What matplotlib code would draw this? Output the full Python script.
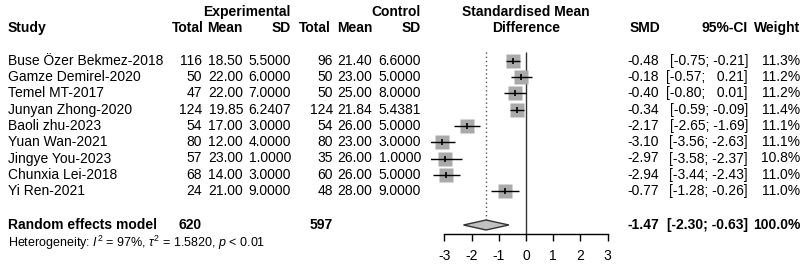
import numpy as np
import matplotlib
matplotlib.use("Agg")
import matplotlib.pyplot as plt

plt.rcParams['font.family'] = ['Liberation Sans', 'DejaVu Sans']
plt.rcParams['mathtext.fontset'] = 'custom'
plt.rcParams['mathtext.rm'] = 'Liberation Sans'
plt.rcParams['mathtext.it'] = 'Liberation Sans:italic'

# study data
studies = ["Buse Özer Bekmez-2018", "Gamze Demirel-2020", "Temel MT-2017",
           "Junyan Zhong-2020", "Baoli zhu-2023", "Yuan Wan-2021",
           "Jingye You-2023", "Chunxia Lei-2018", "Yi Ren-2021"]
exp_n = [116, 50, 47, 124, 54, 80, 57, 68, 24]
exp_mean = [18.50, 22.00, 22.00, 19.85, 17.00, 12.00, 23.00, 14.00, 21.00]
exp_sd = [5.5000, 6.0000, 7.0000, 6.2407, 3.0000, 4.0000, 1.0000, 3.0000, 9.0000]
ctl_n = [96, 50, 50, 124, 54, 80, 35, 60, 48]
ctl_mean = [21.40, 23.00, 25.00, 21.84, 26.00, 23.00, 26.00, 26.00, 28.00]
ctl_sd = [6.6000, 5.0000, 8.0000, 5.4381, 5.0000, 3.0000, 1.0000, 5.0000, 9.0000]
smd = [-0.48, -0.18, -0.40, -0.34, -2.17, -3.10, -2.97, -2.94, -0.77]
ci_lo = [-0.75, -0.57, -0.80, -0.59, -2.65, -3.56, -3.58, -3.44, -1.28]
ci_hi = [-0.21, 0.21, 0.01, -0.09, -1.69, -2.63, -2.37, -2.43, -0.26]
weight = [11.3, 11.2, 11.2, 11.4, 11.1, 11.1, 10.8, 11.0, 11.0]

pooled_smd = -1.47
pooled_lo = -2.30
pooled_hi = -0.63
total_exp = 620
total_ctl = 597
ticks = [-3, -2, -1, 0, 1, 2, 3]

W, H = 810, 268
fig = plt.figure(figsize=(W / 100, H / 100), dpi=100)

# row r sits at pixel y = y0 + dy * r
y0, dy = 61.0, 16.25
ylim = ((H - y0) / dy, -y0 / dy)
def row(py):
    return (py - y0) / dy

# text layer in pixel x
tx = fig.add_axes([0, 0, 1, 1])
tx.set_xlim(0, W)
tx.set_ylim(*ylim)
tx.axis("off")

fs = 10
bold = dict(fontsize=fs, fontweight="bold", va="center")
norm = dict(fontsize=fs, va="center")

# headers
tx.text(291, row(12), "Experimental", ha="right", **bold)
tx.text(421, row(12), "Control", ha="right", **bold)
tx.text(526, row(12), "Standardised Mean", ha="center", **bold)
tx.text(8, row(28), "Study", ha="left", **bold)
for x, s in [(204, "Total"), (243, "Mean"), (291, "SD"),
             (331, "Total"), (372, "Mean"), (421, "SD"),
             (660, "SMD"), (748, "95%-CI"), (800, "Weight")]:
    tx.text(x, row(28), s, ha="right", **bold)
tx.text(526, row(28), "Difference", ha="center", **bold)

for i, name in enumerate(studies):
    tx.text(8, i, name, ha="left", **norm)
    tx.text(202, i, f"{exp_n[i]}", ha="right", **norm)
    tx.text(243, i, f"{exp_mean[i]:.2f}", ha="right", **norm)
    tx.text(291, i, f"{exp_sd[i]:.4f}", ha="right", **norm)
    tx.text(333, i, f"{ctl_n[i]}", ha="right", **norm)
    tx.text(372, i, f"{ctl_mean[i]:.2f}", ha="right", **norm)
    tx.text(421, i, f"{ctl_sd[i]:.4f}", ha="right", **norm)
    tx.text(659, i, f"{smd[i]:.2f}", ha="right", **norm)
    hi = f"{ci_hi[i]:.2f}"
    if ci_hi[i] >= 0:
        hi = "  " + hi
    tx.text(748, i, f"[{ci_lo[i]:.2f}; {hi}]", ha="right", **norm)
    tx.text(800, i, f"{weight[i]:.1f}%", ha="right", **norm)

ys = row(225)
tx.text(8, ys, "Random effects model", ha="left", **bold)
tx.text(202, ys, f"{total_exp}", ha="right", **bold)
tx.text(333, ys, f"{total_ctl}", ha="right", **bold)
tx.text(659, ys, f"{pooled_smd:.2f}", ha="right", **bold)
tx.text(748, ys, f"[{pooled_lo:.2f}; {pooled_hi:.2f}]", ha="right", **bold)
tx.text(800, ys, "100.0%", ha="right", **bold)
tx.text(8, row(243), r"Heterogeneity: $I^2$ = 97%, $\tau^2$ = 1.5820, $p$ < 0.01",
        ha="left", fontsize=9, va="center")

# forest panel
zero_px, unit_px = 526.0, 27.17
xl = (-3.5, 3.5)
left = zero_px + xl[0] * unit_px
ax = fig.add_axes([left / W, 0, (xl[1] - xl[0]) * unit_px / W, 1])
ax.patch.set_alpha(0)
ax.set_xlim(*xl)
ax.set_ylim(*ylim)

idx = np.arange(len(studies))
ms = 10.2 * np.sqrt(np.array(weight) / 11.3)
for i in idx:
    ax.plot(smd[i], i, marker="s", ms=ms[i], color="#aaaaaa", mec="none", zorder=2)
ax.hlines(idx, ci_lo, ci_hi, color="black", lw=1.0, zorder=3)
ax.plot(smd, idx, "|", color="black", ms=5, mew=1.2, zorder=4)

axis_y = row(234)
ax.vlines(0, row(52), axis_y, color="#333333", lw=1.0, zorder=1)
ax.vlines(pooled_smd, row(52), row(220), color="#555555", lw=1.0,
          linestyles=(0, (1, 2)), zorder=1)
h = row(230) - row(225)
ax.fill([pooled_lo, pooled_smd, pooled_hi, pooled_smd],
        [ys, ys - h, ys, ys + h], facecolor="#c0c0c0",
        edgecolor="#333333", lw=1.0, zorder=3)

for s in ["top", "left", "right"]:
    ax.spines[s].set_visible(False)
ax.spines["bottom"].set_position(("data", axis_y))
ax.spines["bottom"].set_bounds(-3, 3)
ax.spines["bottom"].set_linewidth(1.0)
ax.set_yticks([])
ax.set_xticks(ticks)
ax.set_xticklabels([str(t) for t in ticks])
ax.tick_params(axis="x", length=5, width=1.0, pad=6, labelsize=fs)

fig.savefig("out.png", dpi=100)
